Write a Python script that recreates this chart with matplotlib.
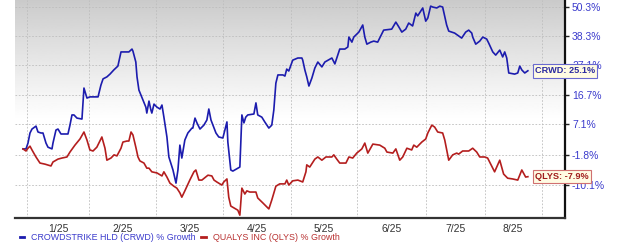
import numpy as np
import matplotlib.pyplot as plt
from matplotlib.ticker import NullLocator, FixedLocator, NullFormatter

plt.rcParams['font.family'] = ['Liberation Sans', 'DejaVu Sans']

# days since 1 Jan 2025 and % growth
crwd_days = [-2.0, -0.5, 0.5, 1.5, 2.5, 4.5, 5.5, 7.0, 8.0, 9.5, 10.5, 12.5, 13.0, 14.5, 15.5,
             17.0, 19.0, 20.5, 21.5, 22.5, 23.5, 25.0, 27.5, 28.5, 30.0,
             31.4, 34.8, 36.0, 36.9, 38.5, 39.8, 41.4, 43.1, 44.4, 45.2, 47.7, 49.0, 49.4, 50.6,
             51.1, 51.9, 53.6, 54.8, 55.2, 56.1, 56.9, 57.3, 58.2,
             59.5, 60.9, 61.8, 62.7, 64.1, 65.0, 66.9, 68.3, 69.2, 70.1, 71.0, 72.4, 73.8, 75.7,
             76.1, 77.1, 78.0, 79.4, 81.2, 82.6, 83.5, 84.5, 85.4, 86.8, 88.1,
             90.0, 90.9, 91.8, 92.2, 93.5, 94.4, 97.5, 98.4, 99.3, 100.1, 101.0, 103.7, 104.6,
             105.4, 107.2, 108.5, 110.3, 111.6, 112.5, 113.4, 114.3, 116.5, 117.4, 118.2, 119.1,
             120.9, 123.3, 125.2, 125.6, 126.6, 127.5, 128.5, 129.9, 131.3, 132.7, 134.6, 136.0,
             139.3, 140.7, 143.0, 145.4, 146.8, 147.3, 148.7, 149.6,
             151.9, 153.6, 154.5, 155.4, 157.1, 158.4, 160.1, 162.7, 166.2, 168.0, 169.3, 170.6,
             172.3, 173.6, 175.3, 176.7, 177.5, 179.7,
             181.0, 182.1, 183.6, 184.7, 186.8, 188.4, 189.9, 192.0, 193.1, 196.2, 199.9, 202.0,
             203.6, 205.2, 205.7, 207.3, 209.4, 211.0,
             213.1, 214.2, 216.4, 218.0, 220.2, 221.8, 222.9, 224.0, 225.1, 228.3, 230.0, 231.1,
             232.2, 233.8, 235.5]
crwd_growth = [-0.2, -0.2, 1.5, 4.5, 5.7, 6.6, 4.8, 4.5, 4.5, 1.5, 0.3, -0.2, 1.5, 5.4, 5.7,
               4.2, 4.2, 4.2, 6.9, 10.1, 10.1, 9.1, 8.8, 19.0, 15.6,
               16.0, 16.0, 20.0, 22.2, 22.9, 23.9, 25.4, 26.8, 32.1, 32.1, 32.1, 33.2, 32.4, 28.3,
               22.9, 18.3, 14.9, 12.6, 10.7, 14.6, 11.7, 10.7, 13.6,
               12.6, 12.0, 13.3, 9.4, 3.3, -2.5, -6.1, -9.6, -6.1, 0.9, -2.8, 2.4, 4.5, 6.0,
               6.0, 9.1, 7.6, 5.7, 6.9, 8.5, 12.0, 8.5, 6.9, 4.5, 3.3,
               3.0, 5.4, 7.9, 1.8, -6.1, -6.4, -5.3, 10.1, 7.6, 9.4, 10.1, 10.4, 14.0,
               10.1, 9.4, 7.9, 6.0, 6.9, 11.7, 20.7, 23.6, 23.6, 23.2, 25.7, 25.0,
               29.0, 29.8, 29.8, 29.0, 25.4, 22.9, 19.7, 22.5, 26.1, 28.3, 26.5, 28.3,
               29.8, 27.6, 33.2, 33.2, 34.0, 37.9, 35.9, 37.9,
               39.9, 42.8, 37.9, 35.1, 35.9, 36.3, 35.9, 40.7, 41.1, 44.0, 42.0, 39.9,
               41.1, 43.6, 42.4, 47.8, 46.6, 50.0,
               44.4, 45.7, 50.8, 50.4, 50.0, 50.8, 50.4, 42.8, 40.3, 39.5, 37.5, 39.9,
               40.7, 39.5, 37.9, 35.1, 36.3, 37.9,
               37.1, 35.5, 32.1, 30.9, 32.8, 30.2, 32.1, 29.8, 24.3, 23.9, 24.3, 26.8,
               25.4, 24.3, 25.1]

qlys_days = [-2.0, -0.5, 0.5, 1.5, 2.5, 4.5, 6.5, 9.0, 12.0, 13.0, 15.5, 17.5, 20.0, 21.5, 24.0,
             26.5, 28.5, 30.0,
             31.4, 32.7, 34.3, 36.4, 37.7, 38.5, 40.2, 41.5, 42.7, 44.4, 45.2, 46.9, 47.7, 48.6,
             49.4, 50.6, 51.5, 52.3, 54.0, 55.2, 56.1, 57.3,
             59.5, 61.8, 62.7, 64.1, 65.5, 67.3, 68.7, 70.1, 71.0, 72.4, 74.7, 76.6, 77.5, 78.9,
             80.3, 83.1, 84.9, 85.9, 87.2, 89.5,
             90.4, 91.8, 92.6, 93.5, 96.6, 97.5, 98.4, 99.7, 100.6, 101.9, 104.6, 105.4, 107.6,
             110.3, 111.6, 113.4, 115.1, 117.4, 118.2, 119.1,
             120.9, 123.3, 125.6, 127.1, 127.5, 128.9, 131.3, 132.7, 134.6, 136.5, 139.3, 140.2,
             141.6, 143.0, 145.9, 147.3, 149.1,
             151.0, 153.2, 154.5, 155.8, 158.0, 161.0, 163.2, 164.1, 166.7, 168.0, 169.7, 171.0,
             172.8, 174.9, 175.8, 177.1, 179.3,
             181.0, 182.1, 184.2, 185.7, 187.3, 189.9, 191.0, 193.1, 195.2, 197.3, 198.3, 200.4,
             203.6, 205.7, 207.8, 209.4,
             212.0, 213.6, 217.4, 220.2, 222.3, 224.5, 227.2, 230.0, 232.2, 234.3, 235.5]
qlys_growth = [-0.2, -0.8, 0.0, 0.6, -0.5, -2.5, -4.2, -4.5, -5.0, -3.9, -3.1, -2.8, -2.5, -1.1, 0.9,
               2.7, 4.8, 2.4,
               -0.5, -0.8, 0.3, 3.3, 0.0, -3.4, -2.8, -1.9, -2.2, 0.0, 1.8, 2.1, 2.1, 4.8,
               3.9, 0.3, -2.5, -3.6, -4.2, -5.6, -5.6, -6.6,
               -6.9, -7.7, -6.6, -8.0, -9.6, -10.4, -10.9, -12.1, -13.2, -11.6, -8.8, -6.6, -6.1, -8.8,
               -8.8, -7.5, -7.7, -8.8, -9.3, -10.1,
               -9.3, -8.5, -13.2, -15.4, -16.4, -17.6, -10.9, -12.4, -11.6, -11.9, -11.9, -13.4, -14.6,
               -16.1, -13.9, -10.4, -9.8, -9.8, -8.8, -10.1,
               -9.0, -8.8, -9.3, -6.6, -4.7, -5.3, -3.1, -2.5, -3.4, -2.5, -2.5, -1.9,
               -3.1, -4.2, -4.2, -2.5, -2.8,
               -1.4, -0.2, 1.5, -1.4, 1.2, 0.9, 0.0, -1.1, -1.4, -0.2, -3.4, -2.5,
               0.0, -0.5, 0.9, 0.3, 1.8,
               2.7, 4.5, 6.9, 6.3, 4.8, 4.5, 2.4, -3.4, -1.9, -1.4, -1.7, -0.8,
               -0.8, 0.0, -1.1, -2.5,
               -2.5, -2.8, -6.6, -3.4, -7.2, -8.3, -8.5, -8.8, -6.1, -8.0, -7.9]

month_starts = [0, 31, 59, 90, 120, 151, 181, 212, 243]
month_labels = ["1/25", "2/25", "3/25", "4/25", "5/25", "6/25", "7/25", "8/25"]
y_ticks = [-10.1, -1.8, 7.1, 16.7, 27.1, 38.3, 50.3]

blue = "#1c1cae"
red = "#b41e1e"

# the source chart gives months slightly uneven widths
scale_days = [-31] + month_starts + [273]
scale_px = np.cumsum([0, 62, 62, 67, 67, 68, 66, 69, 59, 57, 57])


def fwd(x):
    return np.interp(x, scale_days, scale_px)


def inv(x):
    return np.interp(x, scale_px, scale_days)


fig = plt.figure(figsize=(6.2, 2.49), dpi=100)
pos = [15 / 620, 31 / 249, 550 / 620, 218 / 249]

# grey-to-white backdrop
bg = fig.add_axes(pos, zorder=0)
shade = np.linspace(0, 1, 200)
shade = 0.79 + 0.21 * np.clip(shade / 0.55, 0, 1) ** 0.9
bg.imshow(shade[:, None], cmap="gray", vmin=0, vmax=1, aspect="auto",
          extent=[0, 1, 0, 1], origin="upper")
bg.axis("off")

ax = fig.add_axes(pos, zorder=1)
ax.patch.set_alpha(0)

c_vals = 1 + np.array(crwd_growth) / 100
q_vals = 1 + np.array(qlys_growth) / 100
l1, = ax.plot(crwd_days, c_vals, color=blue, lw=1.2)
l2, = ax.plot(qlys_days, q_vals, color=red, lw=1.2)

ax.set_xscale("function", functions=(fwd, inv))
ax.set_yscale("log")
ax.set_xlim(-6, 255.3)
ax.set_ylim(0.8173, 1.535)

ax.xaxis.set_major_locator(FixedLocator(month_starts))
ax.xaxis.set_major_formatter(NullFormatter())
mids = [(a + b) / 2 for a, b in zip(month_starts[:-1], month_starts[1:])]
ax.xaxis.set_minor_locator(FixedLocator(mids))
ax.set_xticklabels(month_labels, minor=True)
ax.tick_params(axis="x", which="both", length=0, pad=4, labelsize=7.5, labelcolor="#333333")

ax.yaxis.tick_right()
ax.yaxis.set_minor_locator(NullLocator())
ax.set_yticks([1 + v / 100 for v in y_ticks])
ax.set_yticklabels([f"{v}%" for v in y_ticks])
ax.tick_params(axis="y", which="major", length=3, width=1, pad=2, labelsize=7.5,
               labelcolor="#3a3acc", color="#222222")

ax.grid(True, which="major", color="#bdbdbd", linestyle=(0, (2, 2)), linewidth=0.6)
ax.set_axisbelow(True)

for s in ["left", "top"]:
    ax.spines[s].set_visible(False)
ax.spines["right"].set_linewidth(1.6)
ax.spines["right"].set_color("#111111")
ax.spines["bottom"].set_linewidth(1.6)
ax.spines["bottom"].set_color("#333333")

# end-of-series tags
ax.annotate(f"CRWD: {crwd_growth[-1]}%", xy=(crwd_days[-1], c_vals[-1]),
            xytext=(5, 0), textcoords="offset points", ha="left", va="center",
            fontsize=6.6, color="#2a2aa0", fontweight="bold", annotation_clip=False, zorder=5,
            bbox=dict(boxstyle="square,pad=0.25", fc="#fffbe3", ec="#6a6ad0", lw=0.8))
ax.annotate(f"QLYS: {qlys_growth[-1]}%", xy=(qlys_days[-1], q_vals[-1]),
            xytext=(5, 0), textcoords="offset points", ha="left", va="center",
            fontsize=6.6, color="#a01c1c", fontweight="bold", annotation_clip=False, zorder=5,
            bbox=dict(boxstyle="square,pad=0.25", fc="#fffbe3", ec="#d07070", lw=0.8))

leg = fig.legend([l1, l2], ["CROWDSTRIKE HLD (CRWD) % Growth", "QUALYS INC (QLYS) % Growth"],
                 loc="center left", bbox_to_anchor=(0.032, 0.045), ncol=2, frameon=False,
                 fontsize=6.4, handlelength=0.5, handletextpad=0.8, columnspacing=0.6,
                 borderpad=0, borderaxespad=0)
for t, c in zip(leg.get_texts(), ["#3a3acc", "#b83030"]):
    t.set_color(c)
for h in leg.legend_handles:
    h.set_linewidth(2)

fig.savefig("out.png", dpi=100)
